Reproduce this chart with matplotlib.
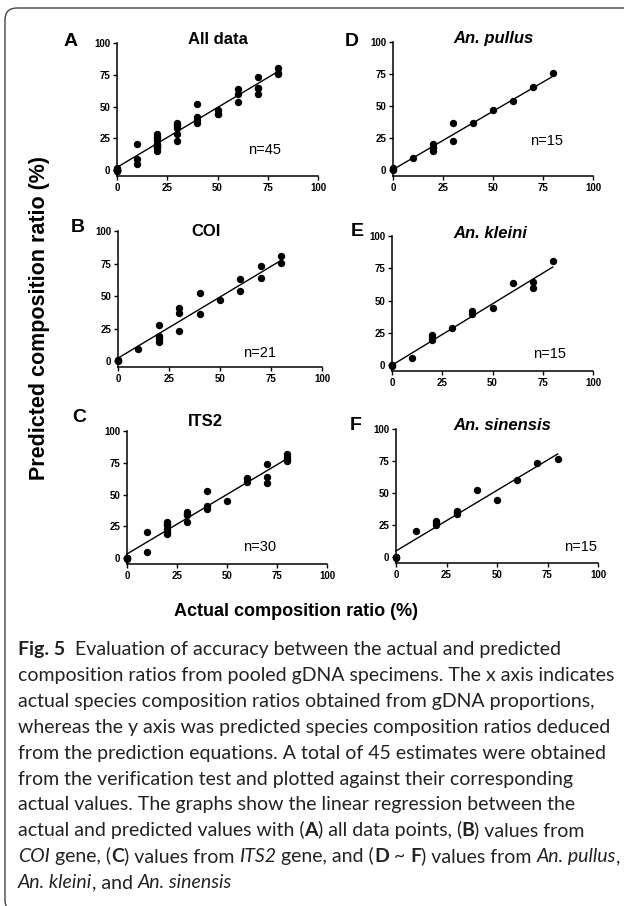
import numpy as np
import matplotlib
matplotlib.use("Agg")
import matplotlib.pyplot as plt
from matplotlib import font_manager, ft2font
from matplotlib.font_manager import FontProperties
from matplotlib.patches import FancyBboxPatch
from matplotlib.transforms import IdentityTransform

W, H = 624, 906

# ---- data ----
# D: An. pullus
pullus_x = [0, 0, 0, 10, 20, 20, 20, 20, 30, 30, 40, 50, 60, 70, 80]
pullus_y = [1, 0.5, 1.5, 9.2, 20.2, 18.5, 17.6, 15, 37.2, 22.8, 36.8, 47.2, 54, 64.8, 76]
# E: An. kleini
kleini_x = [0, 0, 0, 10, 20, 20, 20, 30, 40, 40, 50, 60, 70, 70, 80]
kleini_y = [0, -0.5, 0.5, 5.2, 23.4, 21, 19.3, 28.6, 41.7, 39.6, 44.3, 63.5, 64.3, 59.6, 80.7]
# F: An. sinensis
sinensis_x = [0, 0, 0, 10, 20, 20, 20, 30, 30, 30, 40, 50, 60, 70, 80]
sinensis_y = [0, -0.5, 0.5, 20.6, 28.4, 26.5, 25, 36.2, 35, 33.6, 52.3, 44.5, 60, 73.2, 76.3]
# A: all data = D + E + F
all_x = pullus_x + kleini_x + sinensis_x
all_y = pullus_y + kleini_y + sinensis_y
# B: COI
coi_x = [0, 0, 0, 10, 20, 20, 20, 20, 20, 30, 30, 30, 40, 40, 50, 60, 60, 70, 70, 80, 80]
coi_y = [0.5, 0, 1, 9, 27.7, 19.7, 18.5, 17.2, 14.4, 41, 37.2, 22.8, 52.3, 36.2, 46.9,
         63.3, 53.6, 73.3, 64.1, 81, 75.6]
# C: ITS2
its2_x = [0, 0, 0, 0, 10, 10, 20, 20, 20, 20, 20, 20, 30, 30, 30, 30, 40, 40, 40, 50,
          60, 60, 60, 70, 70, 70, 80, 80, 80, 80]
its2_y = [0, -0.5, 0.5, 0, 20.5, 4.7, 28.4, 25.8, 23.2, 21, 19.2, 27, 36.3, 33.7, 35, 28.4,
          52.6, 40.8, 38.9, 44.7, 63.4, 60, 62, 73.7, 64, 59.5, 81.6, 79.2, 76.3, 78]

# regression lines (slope, intercept) as drawn in the figure
fit_slope = {"A": 0.94, "B": 0.94, "C": 0.935, "D": 0.91, "E": 0.95, "F": 0.945}
fit_icpt = {"A": 2.3, "B": 2.3, "C": 3.4, "D": 0.5, "E": 0.0, "F": 4.9}

titles = {"A": "All data", "B": "COI", "C": "ITS2",
          "D": "An. pullus", "E": "An. kleini", "F": "An. sinensis"}
series = {"A": (all_x, all_y), "B": (coi_x, coi_y), "C": (its2_x, its2_y),
          "D": (pullus_x, pullus_y), "E": (kleini_x, kleini_y), "F": (sinensis_x, sinensis_y)}
ticks = [0, 25, 50, 75, 100]

# ---- layout (pixels) ----
# left, right, top(y=100), bottom(x axis line)
rects = {"A": (117, 318, 43, 176), "B": (118, 322, 231, 367), "C": (127, 327, 431, 564),
         "D": (393, 593, 42, 176), "E": (392, 593, 236, 371), "F": (396, 598, 429, 563)}
title_pos = {"A": (218, 39), "B": (206, 232), "C": (205, 422),
             "D": (493, 39), "E": (490, 233), "F": (502, 425)}
letter_pos = {"A": (71, 41), "B": (78, 228), "C": (79, 418),
              "D": (352, 41), "E": (357, 231), "F": (356, 425)}
n_pos = {"A": (65, 13), "B": (61.5, 3), "C": (58, 5.5),
         "D": (68.5, 20), "E": (70, 5.5), "F": (83, 5)}

ARIAL = "Liberation Sans"
plt.rcParams["font.family"] = [ARIAL, "DejaVu Sans"]

fig = plt.figure(figsize=(W / 100, H / 100), dpi=100)

for key in "ABCDEF":
    l, r, t, b = rects[key]
    ax = fig.add_axes([l / W, 1 - b / H, (r - l) / W, (b - t) / H])
    ax.set_xlim(0, 100)
    ax.set_ylim(-4.5, 100)
    for s in ("top", "right"):
        ax.spines[s].set_visible(False)
    for s in ("left", "bottom"):
        ax.spines[s].set_linewidth(1.1)
    ax.set_xticks(ticks)
    ax.set_yticks(ticks)
    ax.tick_params(direction="out", length=3, width=1.0, labelsize=7, pad=2)
    for lab in ax.get_xticklabels() + ax.get_yticklabels():
        lab.set_fontweight("bold")
    x, y = series[key]
    ax.plot(x, y, "o", color="black", ms=4.3, clip_on=False, zorder=3)
    xs = np.array([0, 80])
    ax.plot(xs, fit_slope[key] * xs + fit_icpt[key], color="black", lw=1.0, clip_on=False)
    ax.text(n_pos[key][0], n_pos[key][1], "n=%d" % len(x), fontsize=10.5)

    tx, ty = title_pos[key]
    style = "italic" if key in "DEF" else "normal"
    fig.text(tx / W, 1 - ty / H, titles[key], fontsize=12, fontweight="bold",
             fontstyle=style, ha="center", va="center")
    lx, ly = letter_pos[key]
    fig.text(lx / W, 1 - ly / H, key, fontsize=14, fontweight="bold", ha="center", va="center")

fig.text(40 / W, 1 - 318 / H, "Predicted composition ratio (%)", rotation=90,
         fontsize=15.5, fontweight="bold", ha="center", va="center")
fig.text(296 / W, 1 - 612 / H, "Actual composition ratio (%)",
         fontsize=13, fontweight="bold", ha="center", va="center")

# frame around the figure (right and bottom edges fall outside the image)
box = FancyBboxPatch((5, H - 912), 640, 904, boxstyle="round,pad=0,rounding_size=12",
                     transform=IdentityTransform(), fill=False, lw=1.0, ec="#444444")
fig.add_artist(box)

# ---- caption ----
CAP = "Lato"
N, B, I = ("normal", "normal"), ("bold", "normal"), ("normal", "italic")
caption = [
    [("Fig. 5", B), ("  Evaluation of accuracy between the actual and predicted", N)],
    [("composition ratios from pooled gDNA specimens. The x axis indicates", N)],
    [("actual species composition ratios obtained from gDNA proportions,", N)],
    [("whereas the y axis was predicted species composition ratios deduced", N)],
    [("from the prediction equations. A total of 45 estimates were obtained", N)],
    [("from the verification test and plotted against their corresponding", N)],
    [("actual values. The graphs show the linear regression between the", N)],
    [("actual and predicted values with (", N), ("A", B), (") all data points, (", N),
     ("B", B), (") values from", N)],
    [("COI", I), (" gene, (", N), ("C", B), (") values from ", N), ("ITS2", I),
     (" gene, and (", N), ("D", B), (" ~ ", N), ("F", B), (") values from ", N),
     ("An. pullus", I), (",", N)],
    [("An. kleini", I), (", and ", N), ("An. sinensis", I)],
]

_fonts = {}


def advance(s, size, weight, style):
    # sum of glyph advances in pixels at 100 dpi
    k = (weight, style)
    if k not in _fonts:
        path = font_manager.findfont(FontProperties(family=CAP, weight=weight, style=style))
        _fonts[k] = ft2font.FT2Font(path)
    f = _fonts[k]
    f.set_size(size, 100)
    return sum(f.load_char(ord(c)).linearHoriAdvance for c in s) / 65536.0


# pick the size so the second line spans the text block width
cap_size = 10 * 594 / advance(caption[1][0][0], 10, "normal", "normal")

x0, base0, lead = 18, 655, 25.9
for i, segs in enumerate(caption):
    x = x0
    yb = base0 + i * lead
    for s, (weight, style) in segs:
        lead_sp = len(s) - len(s.lstrip(" "))
        core = s.strip(" ")
        x += advance(" " * lead_sp, cap_size, weight, style)
        if core:
            fig.text(x / W, 1 - yb / H, core, fontsize=cap_size, fontweight=weight,
                     fontstyle=style, family=CAP, ha="left", va="baseline", color="#222222")
        x += advance(s.lstrip(" "), cap_size, weight, style)

fig.savefig("out.png", dpi=100)
